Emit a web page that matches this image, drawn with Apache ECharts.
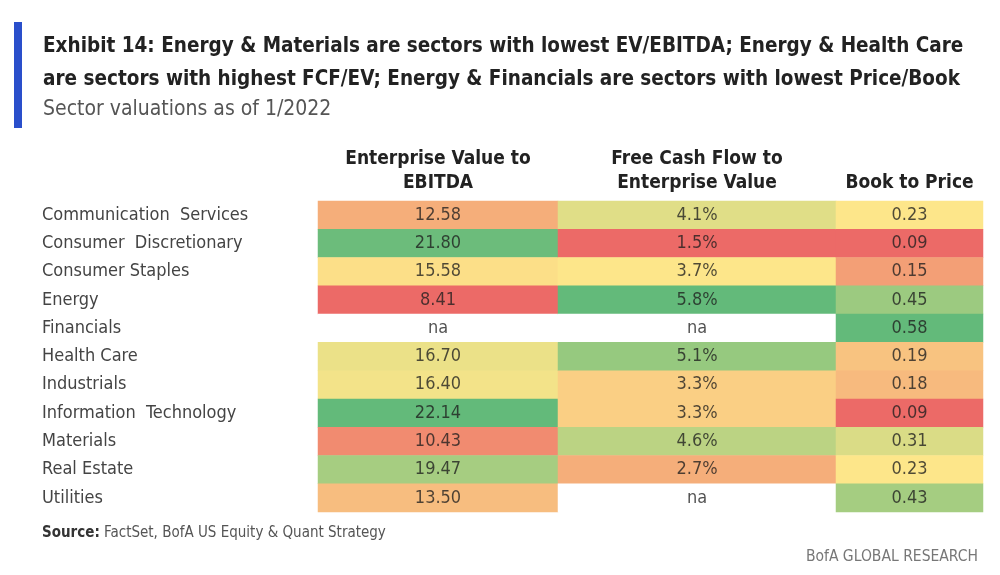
<!DOCTYPE html>
<html><head><meta charset="utf-8">
<script src="https://cdn.jsdelivr.net/npm/echarts@6/dist/echarts.min.js"></script>
<style>html,body{margin:0;padding:0;background:#fff}#c{width:1000px;height:575px}</style>
</head><body><div id="c"></div>
<script>
const sectors = ["Communication  Services","Consumer  Discretionary","Consumer Staples","Energy","Financials","Health Care","Industrials","Information  Technology","Materials","Real Estate","Utilities"];
const columns = ["Enterprise Value to\nEBITDA","Free Cash Flow to\nEnterprise Value","Book to Price"];
const evEbitda = [12.58,21.80,15.58,8.41,null,16.70,16.40,22.14,10.43,19.47,13.50];
const fcfEv = [4.1,1.5,3.7,5.8,null,5.1,3.3,3.3,4.6,2.7,null];
const bookPrice = [0.23,0.09,0.15,0.45,0.58,0.19,0.18,0.09,0.31,0.23,0.43];

const FONT = "'Liberation Sans Narrow','DejaVu Sans Condensed','Open Sans',sans-serif";
const RED=[236,106,103], YEL=[253,230,138], GRN=[99,186,122];
function mix(a,b,t){return 'rgb('+a.map((v,i)=>Math.round(v+(b[i]-v)*t)).join(',')+')';}
function scaleColor(arr){
  const v = arr.filter(x=>x!=null).sort((a,b)=>a-b);
  const mn=v[0], mx=v[v.length-1], n=v.length;
  const med = n%2 ? v[(n-1)/2] : (v[n/2-1]+v[n/2])/2;
  return x => x<=med ? mix(RED,YEL,(x-mn)/(med-mn)) : mix(YEL,GRN,(x-med)/(mx-med));
}
const cols = [evEbitda,fcfEv,bookPrice];
const fmts = [v=>v.toFixed(2), v=>v.toFixed(1)+'%', v=>v.toFixed(2)];
const lefts=[318,558,836], widths=[240,278,147];
const TOP=201, H=311;

const grids=[], xAxes=[], yAxes=[], series=[];
cols.forEach((arr,ci)=>{
  const col = scaleColor(arr);
  grids.push({left:lefts[ci], top:TOP, width:widths[ci], height:H});
  xAxes.push({type:'category', gridIndex:ci, position:'top', data:[columns[ci]],
    axisLine:{show:false}, axisTick:{show:false},
    axisLabel:{margin:6, fontFamily:FONT, fontSize:19, fontWeight:'bold', color:'#222', lineHeight:24, verticalAlign:'bottom'}});
  yAxes.push({type:'category', gridIndex:ci, inverse:true, data:sectors,
    axisLine:{show:false}, axisTick:{show:false},
    axisLabel:{show:ci===0, align:'left', margin:276, fontFamily:FONT, fontSize:18, color:'#444'}});
  series.push({type:'heatmap', xAxisIndex:ci, yAxisIndex:ci,
    data: arr.map((v,ri)=> v==null
      ? {value:[0,ri,0], na:true, itemStyle:{color:'#fff'}}
      : {value:[0,ri,v], itemStyle:{color:col(v)}}),
    label:{show:true, fontFamily:FONT, fontSize:18, color:'rgba(30,30,30,0.78)',
      formatter:p=> p.data.na ? 'na' : fmts[ci](p.value[2])},
    emphasis:{disabled:true}});
});

const chart = echarts.init(document.getElementById('c'),null,{renderer:'canvas'});
chart.setOption({
  animation:false,
  title:[
    {text:'Exhibit 14: Energy & Materials are sectors with lowest EV/EBITDA; Energy & Health Care\nare sectors with highest FCF/EV; Energy & Financials are sectors with lowest Price/Book',
     left:38, top:25, textStyle:{fontFamily:FONT, fontSize:20.5, fontWeight:'bold', color:'#222', lineHeight:33}},
    {text:'Sector valuations as of 1/2022', left:38, top:94, textStyle:{fontFamily:FONT, fontSize:21, fontWeight:'normal', color:'#555'}}
  ],
  grid:grids, xAxis:xAxes, yAxis:yAxes, series:series,
  graphic:[
    {type:'rect', shape:{x:14,y:22,width:8,height:106}, style:{fill:'#2A4FCB'}},
    {type:'text', left:42, top:526, style:{text:'{b|Source:} FactSet, BofA US Equity & Quant Strategy',
      rich:{b:{fontWeight:'bold', fontFamily:FONT, fontSize:15, fill:'#333'}}, fontFamily:FONT, fontSize:15, fill:'#555'}},
    {type:'text', right:22, top:549, style:{text:'BofA GLOBAL RESEARCH', fontFamily:FONT, fontSize:15.5, fill:'#777'}}
  ]
});
</script></body></html>
